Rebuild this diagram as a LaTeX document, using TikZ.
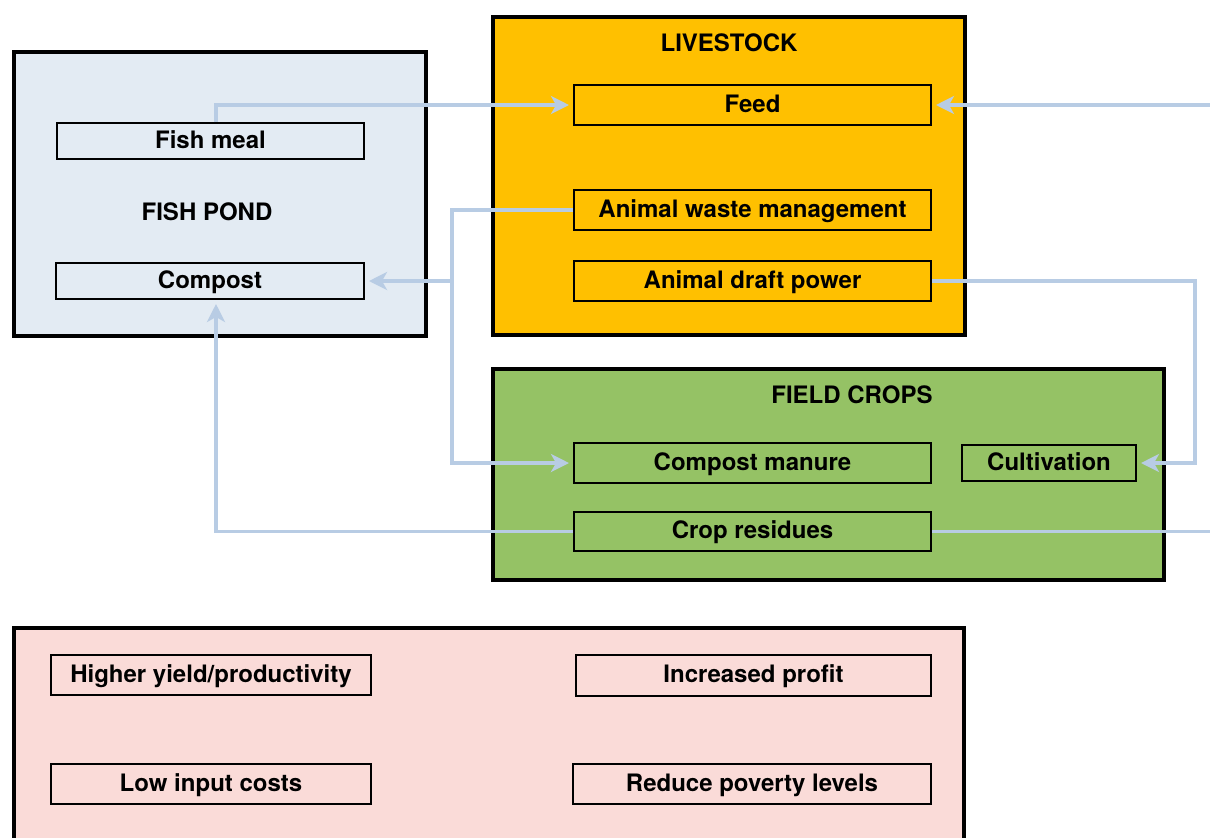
\documentclass[tikz,border=0pt]{standalone}
\usepackage{fontspec}
\setmainfont{TeX Gyre Heros}
\usetikzlibrary{arrows.meta}
\definecolor{pondfill}{RGB}{227,235,243}
\definecolor{livefill}{RGB}{255,192,0}
\definecolor{cropfill}{RGB}{149,194,101}
\definecolor{pinkfill}{RGB}{250,219,216}
\definecolor{connc}{RGB}{184,204,228}
\tikzset{
  bigbox/.style={draw=black, line width=2pt},
  ibox/.style 2 args={draw=black, line width=1pt, inner sep=0pt,
     minimum width=#1*0.5pt, minimum height=#2*0.5pt,
     text height=8.6pt, text depth=1.6pt,
     font=\fontsize{12}{14}\selectfont\bfseries},
  title/.style={font=\fontsize{12}{14}\selectfont\bfseries},
  conn/.style={draw=connc, line width=1.8pt},
  arr/.style={conn, -{Stealth[length=9pt, width=9pt, inset=2.5pt]}, shorten >=2pt}
}
\begin{document}
\begin{tikzpicture}[x=0.5pt, y=-0.5pt]
\useasboundingbox (0,0) rectangle (1210,837);
\clip (0,0) rectangle (1210,837);
% big boxes
\node[bigbox, fill=pondfill, minimum width=412*0.5pt, minimum height=284*0.5pt] (pond) at (220,194) {};
\node[bigbox, fill=livefill, minimum width=472*0.5pt, minimum height=318*0.5pt] (live) at (729,176) {};
\node[bigbox, fill=cropfill, minimum width=671*0.5pt, minimum height=211*0.5pt] (crops) at (828.5,474.5) {};
\node[bigbox, fill=pinkfill, minimum width=950*0.5pt, minimum height=300*0.5pt] (benef) at (489,778) {};
% titles
\node[title] (tpond) at (207,212) {FISH POND};
\node[title] (tlive) at (729,43) {LIVESTOCK};
\node[title] (tcrops) at (852,395) {FIELD CROPS};
% inner boxes
\node[ibox={307}{36}, fill=pondfill] (fishmeal) at (210.5,141) {Fish meal};
\node[ibox={308}{36}, fill=pondfill] (compost) at (210,281) {Compost};
\node[ibox={357}{40}, fill=livefill] (feed) at (752.5,105) {Feed};
\node[ibox={357}{40}, fill=livefill] (awm) at (752.5,210) {Animal waste management};
\node[ibox={357}{40}, fill=livefill] (adp) at (752.5,281) {Animal draft power};
\node[ibox={357}{40}, fill=cropfill] (cman) at (752.5,463) {Compost manure};
\node[ibox={174}{36}, fill=cropfill] (cult) at (1049,463) {Cultivation};
\node[ibox={357}{39}, fill=cropfill] (cres) at (752.5,531.5) {Crop residues};
\node[ibox={320}{40}, fill=pinkfill] (hy) at (211,675) {Higher yield/productivity};
\node[ibox={355}{41}, fill=pinkfill] (ip) at (753.5,675.5) {Increased profit};
\node[ibox={320}{40}, fill=pinkfill] (lic) at (211,784) {Low input costs};
\node[ibox={358}{40}, fill=pinkfill] (rpl) at (752,784) {Reduce poverty levels};
% connector coordinates
\coordinate (feedin) at (1212,105);
\coordinate (resout) at (1212,531.5);
\coordinate (j) at (452,281);
\coordinate (k) at (1195,281);
% connectors
\draw[arr] ([xshift=2.75pt]fishmeal.north) |- (feed.west);
\draw[arr] (feedin) -- (feed.east);
\draw[conn] (awm.west) -| (j);
\draw[arr] (j) |- (cman.west);
\draw[arr] (j) -- (compost.east);
\draw[arr] (adp.east) -- (k) |- (cult.east);
\draw[arr] (cres.west) -| ([xshift=3pt]compost.south);
\draw[conn] (cres.east) -- (resout);
\end{tikzpicture}
\end{document}
